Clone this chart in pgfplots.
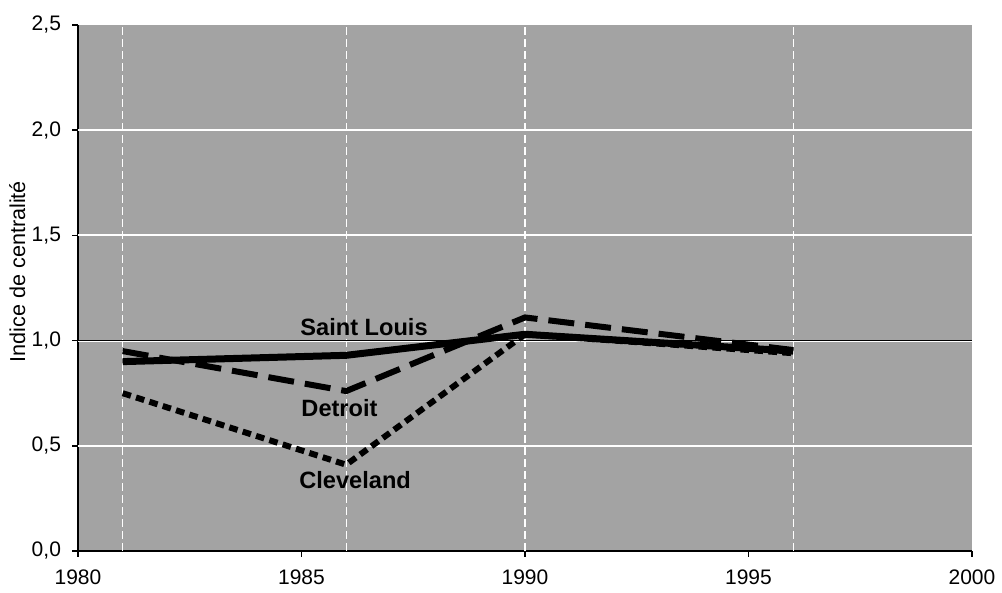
\documentclass[border=0pt]{standalone}
\usepackage{fontspec}
\setmainfont{Liberation Sans}
\usepackage{pgfplots}
\pgfplotsset{compat=1.18}
\definecolor{bg}{gray}{0.64}

\begin{document}
\begin{tikzpicture}
\begin{axis}[
  scale only axis, width=447pt, height=263pt,
  xmin=1980, xmax=2000, ymin=0, ymax=2.5,
  axis lines=left, axis line style={-, line width=0.9pt},
  axis background/.style={fill=bg},
  xtick={1980,1985,...,2000}, ytick={0,0.5,...,2.5},
  tick align=outside, major tick length=3pt, tick style={black, line width=0.8pt},
  /pgf/number format/assume math mode=true,
  xticklabel style={/pgf/number format/1000 sep={}, yshift=-3pt},
  yticklabel style={/pgf/number format/.cd, fixed, fixed zerofill, precision=1, use comma, /tikz/xshift=-2pt},
  ticklabel style={font=\fontsize{10.5}{12}\selectfont},
  ylabel={Indice de centralité},
  ylabel style={font=\fontsize{10.8}{13}\selectfont, at={(axis description cs:-0.068,0.531)}, anchor=center},
  extra x ticks={1981,1986,1990,1996}, extra x tick labels={},
  extra x tick style={xmajorgrids=true, major tick length=0pt, major grid style={white, line width=0.6pt, dash pattern=on 4pt off 2pt}},
  extra y ticks={0.5,1,1.5,2}, extra y tick labels={},
  extra y tick style={ymajorgrids=true, major tick length=0pt, major grid style={white, line width=1pt}},
  clip=false,
]
\addplot[black, line width=0.8pt] coordinates {(1980,1) (2000,1)};
\addplot[black, line width=3pt, dash pattern=on 4.3pt off 2.7pt, line cap=butt] coordinates {(1981,0.75) (1986,0.41) (1990,1.03) (1996,0.94)};
\addplot[black, line width=3pt, dash pattern=on 13pt off 5.5pt, line cap=butt] coordinates {(1981,0.95) (1986,0.76) (1990,1.11) (1996,0.955)};
\addplot[black, line width=3.5pt] coordinates {(1981,0.90) (1986,0.93) (1990,1.03) (1996,0.95)};
\node[font=\fontsize{11.8}{13}\selectfont\bfseries] at (axis cs:1986.4,1.066) {Saint Louis};
\node[font=\fontsize{11.8}{13}\selectfont\bfseries] at (axis cs:1985.85,0.68) {Detroit};
\node[font=\fontsize{11.8}{13}\selectfont\bfseries] at (axis cs:1986.2,0.336) {Cleveland};
\end{axis}
\path ([xshift=-39pt,yshift=-20.75pt]current axis.south west) rectangle ([xshift=15pt,yshift=12.5pt]current axis.north east);
\end{tikzpicture}
\end{document}
